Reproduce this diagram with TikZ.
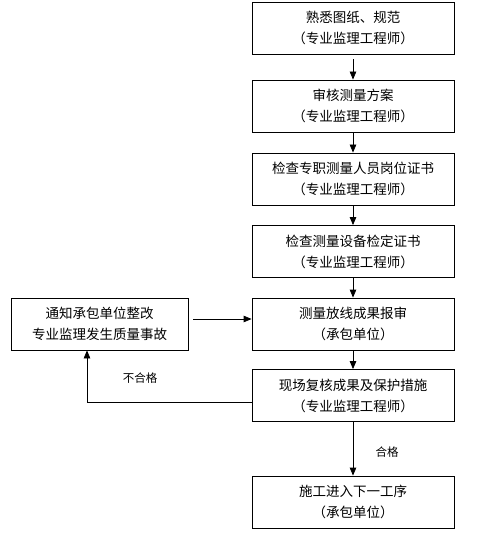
\documentclass[tikz,border=0pt]{standalone}
\usepackage{fontspec}
\setmainfont{Noto Sans CJK SC}
\usepackage{tikz}
\usetikzlibrary{arrows.meta,calc}
\tikzstyle{box}=[rectangle,draw=black,line width=0.8pt,align=center,
  minimum width=202pt,minimum height=52pt,inner sep=0pt,
  font=\fontsize{13.5}{21}\selectfont]
\tikzstyle{lbox}=[style=box,minimum width=177pt]
\tikzstyle{arr}=[-{Triangle[length=8pt,width=6.5pt]},line width=0.8pt]
\tikzstyle{lab}=[inner sep=0pt,font=\fontsize{11.5}{14}\selectfont]
\tikzstyle{none}=[]

\begin{document}
\begin{tikzpicture}[x=1pt,y=-1pt]
            \useasboundingbox (0,0) rectangle (495,534);
            \node [style=box] (0) at (353, 28) {熟悉图纸、规范\\（专业监理工程师）};
            \node [style=box] (1) at (353, 106) {审核测量方案\\（专业监理工程师）};
            \node [style=box] (2) at (353, 179) {检查专职测量人员岗位证书\\（专业监理工程师）};
            \node [style=box] (3) at (353, 251.5) {检查测量设备检定证书\\（专业监理工程师）};
            \node [style=box] (4) at (353, 324) {测量放线成果报审\\（承包单位）};
            \node [style=box] (5) at (353, 395.5) {现场复核成果及保护措施\\（专业监理工程师）};
            \node [style=box] (6) at (353, 502) {施工进入下一工序\\（承包单位）};
            \node [style=lbox] (7) at (99.5, 324) {通知承包单位整改\\专业监理发生质量事故};
            \node [style=lab] (8) at (140, 378) {不合格};
            \node [style=lab] (9) at (387, 452) {合格};
            \draw [style=arr,shorten <=5pt] (0) to (1);
            \draw [style=arr] (1) to (2);
            \draw [style=arr] (2) to (3);
            \draw [style=arr] (3) to (4);
            \draw [style=arr] (4) to (5);
            \draw [style=arr] (5) to (6);
            \draw [style=arr] ($(7.east)+(5,-5)$) to ($(4.west)+(0,-5)$);
            \draw [style=arr] ($(5.west)+(0,6.5)$) -| ($(7.south)+(-12.5,0)$);
    \end{tikzpicture}
\end{document}
